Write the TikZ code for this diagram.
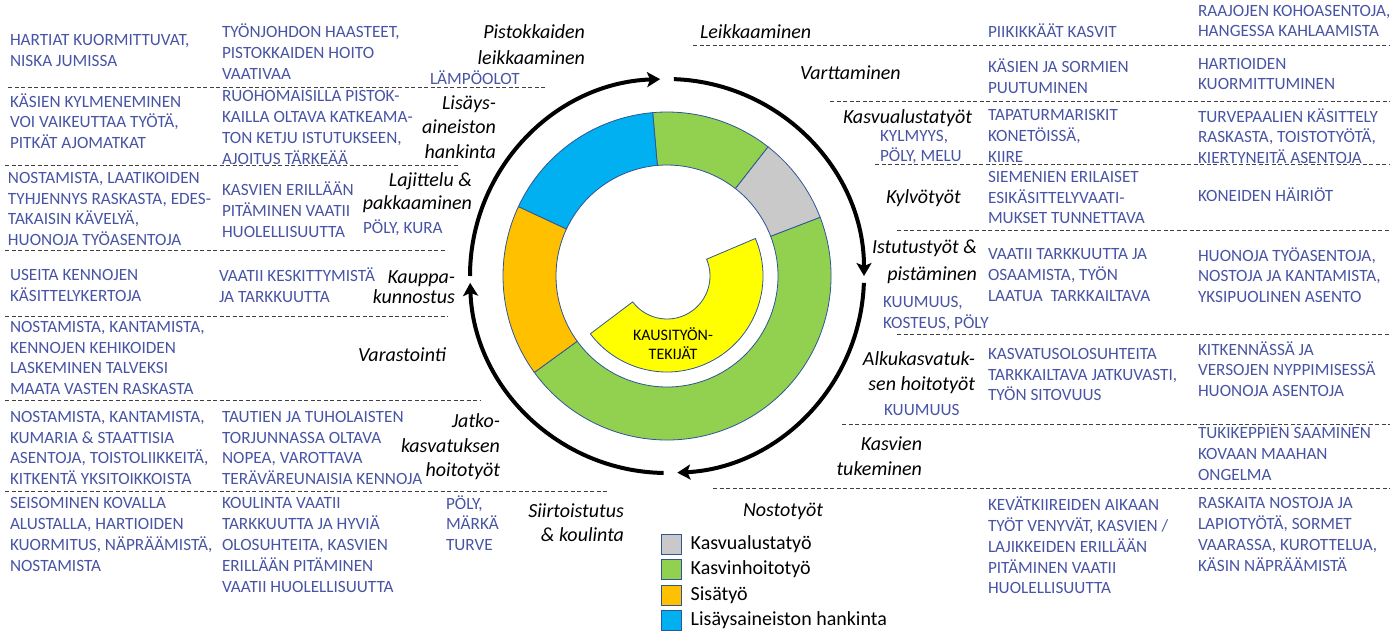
\documentclass[tikz,border=0pt]{standalone}
\usepackage{fontspec}
\setmainfont{Carlito}
\usetikzlibrary{arrows.meta, positioning}
\definecolor{riskblue}{RGB}{72,84,164}
\definecolor{segline}{RGB}{47,85,151}
\definecolor{soilgray}{RGB}{201,201,201}
\definecolor{caregreen}{RGB}{146,208,80}
\definecolor{indoororange}{RGB}{255,192,0}
\definecolor{propblue}{RGB}{0,176,240}
\definecolor{seasonyellow}{RGB}{255,255,0}

\begin{document}
\begin{tikzpicture}[x=1pt, y=-1pt,
    risk/.style={inner sep=0, outer sep=0, text=riskblue, font=\fontsize{17.2}{20.8}\selectfont, align=left, anchor=west},
    phase/.style={inner sep=0, outer sep=0, font=\fontsize{20}{24.5}\selectfont\itshape, align=right, anchor=east},
    divider/.style={dash pattern=on 4pt off 2.5pt, line width=0.8pt, black!75},
    seg/.style={draw=segline, line width=0.8pt},
    cyclearrow/.style={line width=4pt, -{Stealth[length=13pt, width=15pt, inset=3pt]}},
    legbox/.style={draw=segline, line width=1pt, minimum size=20pt, inner sep=0},
    legtext/.style={inner sep=0, font=\fontsize{20}{24}\selectfont, anchor=west}]
  \useasboundingbox (0,0) rectangle (1399,630);

  % ring of work types
  \begin{scope}[shift={(667,276)}]
    \draw[seg, fill=caregreen] (-144:111pt) arc (-144:21:111pt) -- (21:164pt) arc (21:-144:164pt) -- cycle;
    \draw[seg, fill=soilgray] (21:111pt) arc (21:52:111pt) -- (52:164pt) arc (52:21:164pt) -- cycle;
    \draw[seg, fill=caregreen] (52:111pt) arc (52:95:111pt) -- (95:164pt) arc (95:52:164pt) -- cycle;
    \draw[seg, fill=propblue] (95:111pt) arc (95:155:111pt) -- (155:164pt) arc (155:95:164pt) -- cycle;
    \draw[seg, fill=indoororange] (155:111pt) arc (155:216:111pt) -- (216:164pt) arc (216:155:164pt) -- cycle;
    \draw[seg, fill=seasonyellow] (-143:43pt) arc (-143:23:43pt) -- (23:96pt) arc (23:-143:96pt) -- cycle;

    \draw[cyclearrow] (88:197pt) arc (88:0:197pt);
    \draw[cyclearrow] (-2:197pt) arc (-2:-87:197pt);
    \draw[cyclearrow] (-91:197pt) arc (-91:-178:197pt);
    \draw[cyclearrow] (180:197pt) arc (180:92:197pt);
  \end{scope}
  \node[inner sep=0, font=\fontsize{16}{19}\selectfont, align=center] (seasonal) at (673,344) {KAUSITYÖN-\\TEKIJÄT};

  % dividers
  \draw[divider] (8,87) -- (547,87);
  \draw[divider] (5,165) -- (460,165);
  \draw[divider] (5,250) -- (447,250);
  \draw[divider] (5,316) -- (448,316);
  \draw[divider] (5,400) -- (480,400);
  \draw[divider] (5,491) -- (608,491);
  \draw[divider] (693,45) -- (1390,45);
  \draw[divider] (830,101) -- (1390,101);
  \draw[divider] (875,164) -- (1390,164);
  \draw[divider] (897,230) -- (1390,230);
  \draw[divider] (897,334) -- (1390,334);
  \draw[divider] (842,424) -- (1390,424);
  \draw[divider] (713,488) -- (1390,488);

  % work phases
  \node[phase, font=\fontsize{20}{26}\selectfont\itshape] (cutting) at (585,45) {Pistokkaiden\\leikkaaminen};
  \node[phase] (material) at (496,127) {Lisäys-\\aineiston\\hankinta};
  \node[phase, font=\fontsize{20}{23}\selectfont\itshape] (sorting) at (472,192.5) {Lajittelu \&\\pakkaaminen};
  \node[phase, font=\fontsize{20}{20.5}\selectfont\itshape] (finishing) at (455,287) {Kauppa-\\kunnostus};
  \node[phase] (storage) at (446,355) {Varastointi};
  \node[phase] (aftercare) at (500,447) {Jatko-\\kasvatuksen\\hoitotyöt};
  \node[phase] (transplant) at (624,522.5) {Siirtoistutus\\\& koulinta};
  \node[phase, anchor=west] (lifting) at (743,511) {Nostotyöt};
  \node[phase, anchor=west] (pruning) at (700,32) {Leikkaaminen};
  \node[phase, anchor=west] (grafting) at (800,73) {Varttaminen};
  \node[phase, anchor=west] (substrate) at (843,118) {Kasvualustatyöt};
  \node[phase, anchor=west] (sowing) at (886,198) {Kylvötyöt};
  \node[phase, font=\fontsize{20}{27}\selectfont\itshape] (planting) at (977,261.5) {Istutustyöt \&\\pistäminen};
  \node[phase] (earlycare) at (975,372.5) {Alkukasvatuk-\\sen hoitotyöt};
  \node[phase] (staking) at (922,456) {Kasvien\\tukeminen};

  % conditions
  \node[risk] (heat) at (430,78) {LÄMPÖOLOT};
  \node[risk] (dust) at (363,228) {PÖLY, KURA};
  \node[risk] (wetpeat) at (446,523) {PÖLY,\\MÄRKÄ\\TURVE};
  \node[risk] (cold) at (880,147) {KYLMYYS,\\PÖLY, MELU};
  \node[risk] (humid) at (883,313.5) {KUUMUUS,\\KOSTEUS, PÖLY};
  \node[risk] (hot) at (884,410) {KUUMUUS};

  % left columns
  \node[risk] (l1) at (10,50.5) {HARTIAT KUORMITTUVAT,\\NISKA JUMISSA};
  \node[risk] (l2) at (10,121) {KÄSIEN KYLMENEMINEN\\VOI VAIKEUTTAA TYÖTÄ,\\PITKÄT AJOMATKAT};
  \node[risk] (l3) at (8,209) {NOSTAMISTA, LAATIKOIDEN\\TYHJENNYS RASKASTA, EDES-\\TAKAISIN KÄVELYÄ,\\HUONOJA TYÖASENTOJA};
  \node[risk] (l4) at (10,285.5) {USEITA KENNOJEN\\KÄSITTELYKERTOJA};
  \node[risk] (l5) at (10,358) {NOSTAMISTA, KANTAMISTA,\\KENNOJEN KEHIKOIDEN\\LASKEMINEN TALVEKSI\\MAATA VASTEN RASKASTA};
  \node[risk] (l6) at (10,448) {NOSTAMISTA, KANTAMISTA,\\KUMARIA \& STAATTISIA\\ASENTOJA, TOISTOLIIKKEITÄ,\\KITKENTÄ YKSITOIKKOISTA};
  \node[risk] (l7) at (10,534.5) {SEISOMINEN KOVALLA\\ALUSTALLA, HARTIOIDEN\\KUORMITUS, NÄPRÄÄMISTÄ,\\NOSTAMISTA};

  \node[risk] (m1) at (222,51.7) {TYÖNJOHDON HAASTEET,\\PISTOKKAIDEN HOITO\\VAATIVAA};
  \node[risk] (m2) at (222,127.5) {RUOHOMAISILLA PISTOK-\\KAILLA OLTAVA KATKEAMA-\\TON KETJU ISTUTUKSEEN,\\AJOITUS TÄRKEÄÄ};
  \node[risk] (m3) at (222,209.5) {KASVIEN ERILLÄÄN\\PITÄMINEN VAATII\\HUOLELLISUUTTA};
  \node[risk] (m4) at (219,285.5) {VAATII KESKITTYMISTÄ\\JA TARKKUUTTA};
  \node[risk] (m5) at (222,448) {TAUTIEN JA TUHOLAISTEN\\TORJUNNASSA OLTAVA\\NOPEA, VAROTTAVA\\TERÄVÄREUNAISIA KENNOJA};
  \node[risk] (m6) at (222,545) {KOULINTA VAATII\\TARKKUUTTA JA HYVIÄ\\OLOSUHTEITA, KASVIEN\\ERILLÄÄN PITÄMINEN\\VAATII HUOLELLISUUTTA};

  % right columns
  \node[risk] (a1) at (988,31) {PIIKIKKÄÄT KASVIT};
  \node[risk] (a2) at (988,76) {KÄSIEN JA SORMIEN\\PUUTUMINEN};
  \node[risk] (a3) at (988,136) {TAPATURMARISKIT\\KONETÖISSÄ,\\KIIRE};
  \node[risk] (a4) at (988,197.5) {SIEMENIEN ERILAISET\\ESIKÄSITTELYVAATI-\\MUKSET TUNNETTAVA};
  \node[risk] (a5) at (988,275) {VAATII TARKKUUTTA JA\\OSAAMISTA, TYÖN\\LAATUA~~TARKKAILTAVA};
  \node[risk] (a6) at (988,374.5) {KASVATUSOLOSUHTEITA\\TARKKAILTAVA JATKUVASTI,\\TYÖN SITOVUUS};
  \node[risk] (a7) at (988,545.5) {KEVÄTKIIREIDEN AIKAAN\\TYÖT VENYVÄT, KASVIEN /\\LAJIKKEIDEN ERILLÄÄN\\PITÄMINEN VAATII\\HUOLELLISUUTTA};

  \node[risk] (b1) at (1198,21) {RAAJOJEN KOHOASENTOJA,\\HANGESSA KAHLAAMISTA};
  \node[risk] (b2) at (1198,74) {HARTIOIDEN\\KUORMITTUMINEN};
  \node[risk] (b3) at (1198,136) {TURVEPAALIEN KÄSITTELY\\RASKASTA, TOISTOTYÖTÄ,\\KIERTYNEITÄ ASENTOJA};
  \node[risk] (b4) at (1198,195) {KONEIDEN HÄIRIÖT};
  \node[risk] (b5) at (1198,275) {HUONOJA TYÖASENTOJA,\\NOSTOJA JA KANTAMISTA,\\YKSIPUOLINEN ASENTO};
  \node[risk] (b6) at (1198,369) {KITKENNÄSSÄ JA\\VERSOJEN NYPPIMISESSÄ\\HUONOJA ASENTOJA};
  \node[risk] (b7) at (1198,454) {TUKIKEPPIEN SAAMINEN\\KOVAAN MAAHAN\\ONGELMA};
  \node[risk] (b8) at (1198,534.5) {RASKAITA NOSTOJA JA\\LAPIOTYÖTÄ, SORMET\\VAARASSA, KUROTTELUA,\\KÄSIN NÄPRÄÄMISTÄ};

  % legend
  \node[legbox, fill=soilgray] (lg1) at (671,544) {};
  \node[legbox, fill=caregreen] (lg2) at (671,569) {};
  \node[legbox, fill=indoororange] (lg3) at (671,595) {};
  \node[legbox, fill=propblue] (lg4) at (671,620) {};
  \node[legtext, right=9pt of lg1] (lt1) {Kasvualustatyö};
  \node[legtext, right=9pt of lg2] (lt2) {Kasvinhoitotyö};
  \node[legtext, right=9pt of lg3] (lt3) {Sisätyö};
  \node[legtext, right=9pt of lg4] (lt4) {Lisäysaineiston hankinta};
\end{tikzpicture}
\end{document}
